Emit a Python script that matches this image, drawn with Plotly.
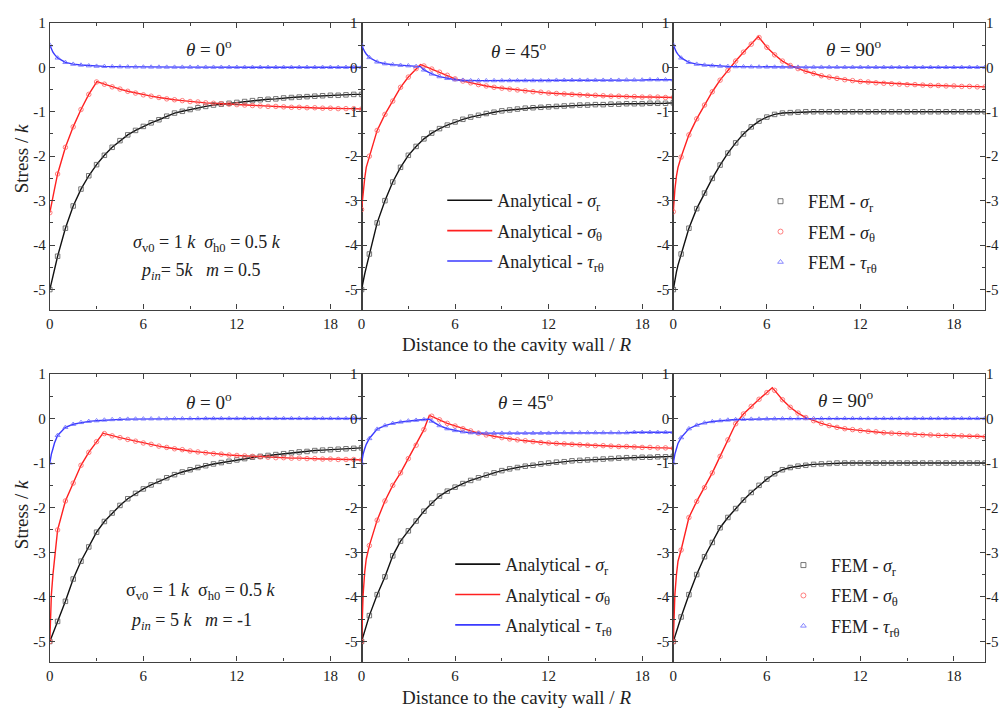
import plotly.graph_objects as go

# ---------------- data ----------------
FEM_X = [0, 0.5, 1, 1.5, 2, 2.5, 3, 3.5, 4, 4.5, 5, 5.5, 6, 6.5, 7, 7.5, 8, 8.5, 9, 9.5, 10,
         10.5, 11, 11.5, 12, 12.5, 13, 13.5, 14, 14.5, 15, 15.5, 16, 16.5, 17, 17.5, 18, 18.5, 19, 19.5, 20]
NEAR_X = [0.05, 0.1, 0.2, 0.3]          # extra analytical points close to the wall

X_TICKS = [0, 6, 12, 18]
Y_TICK_VALS = [1, 0, -1, -2, -3, -4, -5]
Y_TICK_TEXT = ["1", "0", "-1", "-2", "-3", "-4", "-5"]
THETA_LABELS = ["0", "45", "90"]

# ---- top row: m = 0.5 ----
A0_SR = [-5.0, -4.25, -3.62, -3.12, -2.74, -2.44, -2.19, -1.98, -1.80, -1.65, -1.52,
         -1.42, -1.33, -1.25, -1.18, -1.10, -1.03, -0.99, -0.95, -0.91, -0.88,
         -0.85, -0.83, -0.81, -0.79, -0.77, -0.75, -0.73, -0.72, -0.71, -0.69,
         -0.68, -0.67, -0.66, -0.65, -0.64, -0.63, -0.63, -0.62, -0.61, -0.61]
A0_SR_NEAR = [-4.92, -4.85, -4.70, -4.55]
A0_ST = [-3.27, -2.40, -1.80, -1.34, -0.95, -0.61, -0.33, -0.38, -0.44, -0.49, -0.54,
         -0.58, -0.62, -0.65, -0.68, -0.71, -0.73, -0.75, -0.77, -0.78, -0.80,
         -0.81, -0.82, -0.83, -0.84, -0.85, -0.86, -0.87, -0.88, -0.88, -0.89,
         -0.90, -0.90, -0.91, -0.91, -0.92, -0.92, -0.93, -0.93, -0.93, -0.94]
A0_ST_NEAR = [-3.17, -3.08, -2.90, -2.74]
A0_TAU = [0.50, 0.21, 0.11, 0.07, 0.05, 0.035, 0.025, 0.02, 0.015, 0.012, 0.01,
          0.008, 0.007, 0.006, 0.005, 0.004, 0.004, 0.003, 0.003, 0.002, 0.002,
          0.002, 0.001, 0.001, 0.001, 0.001, 0, 0, 0, 0, 0,
          0, 0, 0, 0, 0, 0, 0, 0, 0, 0]
A0_TAU_NEAR = [0.45, 0.41, 0.34, 0.29]

A45_SR = [-5.0, -4.20, -3.50, -3.00, -2.58, -2.25, -1.98, -1.78, -1.61, -1.48, -1.38,
          -1.30, -1.23, -1.17, -1.12, -1.08, -1.04, -1.01, -0.98, -0.96, -0.94,
          -0.92, -0.91, -0.90, -0.89, -0.88, -0.87, -0.86, -0.85, -0.85, -0.84,
          -0.84, -0.83, -0.83, -0.82, -0.82, -0.82, -0.81, -0.81, -0.81, -0.80]
A45_SR_NEAR = [-4.90, -4.82, -4.65, -4.50]
A45_ST = [-3.20, -2.00, -1.42, -1.06, -0.76, -0.45, -0.22, -0.03, 0.03, -0.04, -0.11,
          -0.18, -0.26, -0.31, -0.35, -0.39, -0.42, -0.45, -0.47, -0.49, -0.51,
          -0.53, -0.55, -0.56, -0.58, -0.59, -0.60, -0.61, -0.62, -0.63, -0.63,
          -0.64, -0.65, -0.65, -0.66, -0.66, -0.67, -0.67, -0.67, -0.68, -0.68]
A45_ST_NEAR = [-3.00, -2.80, -2.50, -2.25]
A45_TAU = [0.50, 0.22, 0.12, 0.08, 0.06, 0.045, 0.035, 0.02, -0.06, -0.15, -0.21,
           -0.25, -0.28, -0.29, -0.30, -0.30, -0.30, -0.30, -0.30, -0.30, -0.30,
           -0.30, -0.30, -0.30, -0.30, -0.29, -0.29, -0.29, -0.29, -0.29, -0.29,
           -0.29, -0.29, -0.29, -0.285, -0.285, -0.285, -0.28, -0.28, -0.28, -0.28]
A45_TAU_NEAR = [0.45, 0.41, 0.35, 0.30]

A90_SR = [-5.0, -4.20, -3.62, -3.18, -2.83, -2.50, -2.20, -1.93, -1.70, -1.50, -1.34,
          -1.21, -1.12, -1.06, -1.03, -1.02, -1.01, -1.00, -1.00, -1.00, -1.00,
          -1.00, -1.00, -1.00, -1.00, -1.00, -1.00, -1.00, -1.00, -1.00, -1.00,
          -1.00, -1.00, -1.00, -1.00, -1.00, -1.00, -1.00, -1.00, -1.00, -1.00]
A90_SR_NEAR = [-4.88, -4.78, -4.60, -4.45]
A90_ST = [-3.25, -2.02, -1.52, -1.16, -0.85, -0.55, -0.29, -0.07, 0.14, 0.34, 0.52,
          0.67, 0.45, 0.28, 0.14, 0.04, -0.03, -0.09, -0.14, -0.19, -0.22,
          -0.25, -0.28, -0.30, -0.32, -0.33, -0.35, -0.36, -0.37, -0.38, -0.39,
          -0.39, -0.40, -0.41, -0.41, -0.42, -0.42, -0.43, -0.43, -0.44, -0.44]
A90_ST_NEAR = [-2.95, -2.75, -2.45, -2.25]
A90_TAU = [0.50, 0.21, 0.11, 0.07, 0.05, 0.035, 0.025, 0.02, 0.015, 0.012, 0.01,
           0.008, 0.007, 0.006, 0.005, 0.004, 0.004, 0.003, 0.003, 0.002, 0.002,
           0.002, 0.001, 0.001, 0.001, 0.001, 0, 0, 0, 0, 0,
           0, 0, 0, 0, 0, 0, 0, 0, 0, 0]
A90_TAU_NEAR = [0.45, 0.41, 0.34, 0.29]

# ---- bottom row: m = -1 ----
B0_SR = [-5.0, -4.55, -4.10, -3.60, -3.20, -2.88, -2.55, -2.31, -2.12, -1.95, -1.80,
         -1.68, -1.58, -1.49, -1.41, -1.33, -1.26, -1.20, -1.15, -1.10, -1.06,
         -1.02, -0.99, -0.96, -0.93, -0.90, -0.87, -0.85, -0.83, -0.81, -0.79,
         -0.77, -0.75, -0.74, -0.72, -0.71, -0.70, -0.69, -0.68, -0.67, -0.66]
B0_SR_NEAR = [-4.95, -4.91, -4.82, -4.73]
B0_ST = [-5.0, -2.50, -1.85, -1.45, -1.05, -0.76, -0.52, -0.34, -0.39, -0.43, -0.47,
         -0.51, -0.55, -0.58, -0.62, -0.65, -0.68, -0.70, -0.73, -0.75, -0.77,
         -0.79, -0.80, -0.82, -0.83, -0.84, -0.85, -0.86, -0.87, -0.88, -0.88,
         -0.89, -0.89, -0.90, -0.90, -0.91, -0.91, -0.92, -0.92, -0.92, -0.93]
B0_ST_NEAR = [-4.30, -3.95, -3.50, -3.15]
B0_TAU = [-1.0, -0.38, -0.20, -0.13, -0.09, -0.065, -0.05, -0.035, -0.025, -0.02, -0.015,
          -0.012, -0.01, -0.008, -0.007, -0.006, -0.005, -0.004, -0.003, -0.003, -0.002,
          -0.002, -0.001, -0.001, -0.001, 0, 0, 0, 0, 0, 0,
          0, 0, 0, 0, 0, 0, 0, 0, 0, 0]
B0_TAU_NEAR = [-0.88, -0.80, -0.68, -0.55]

B45_SR = [-5.0, -4.42, -3.95, -3.55, -3.08, -2.75, -2.52, -2.30, -2.08, -1.90, -1.74,
          -1.63, -1.54, -1.46, -1.39, -1.33, -1.27, -1.22, -1.17, -1.13, -1.10,
          -1.07, -1.05, -1.02, -1.00, -0.98, -0.97, -0.95, -0.94, -0.93, -0.92,
          -0.91, -0.90, -0.89, -0.88, -0.88, -0.87, -0.87, -0.86, -0.86, -0.85]
B45_SR_NEAR = [-4.94, -4.88, -4.77, -4.65]
B45_ST = [-5.0, -2.85, -2.28, -1.85, -1.50, -1.22, -0.90, -0.60, -0.25, 0.05, -0.03,
          -0.11, -0.17, -0.23, -0.28, -0.33, -0.37, -0.40, -0.43, -0.46, -0.48,
          -0.50, -0.52, -0.54, -0.55, -0.56, -0.57, -0.58, -0.59, -0.60, -0.61,
          -0.61, -0.62, -0.63, -0.63, -0.64, -0.65, -0.65, -0.66, -0.66, -0.67]
B45_ST_NEAR = [-4.30, -3.95, -3.45, -3.15]
B45_TAU = [-1.0, -0.45, -0.24, -0.16, -0.11, -0.08, -0.055, -0.04, -0.025, -0.06, -0.16,
           -0.23, -0.27, -0.30, -0.32, -0.33, -0.33, -0.33, -0.33, -0.33, -0.33,
           -0.33, -0.33, -0.33, -0.33, -0.32, -0.32, -0.32, -0.32, -0.32, -0.32,
           -0.32, -0.32, -0.32, -0.32, -0.31, -0.31, -0.31, -0.31, -0.31, -0.31]
B45_TAU_NEAR = [-0.88, -0.80, -0.68, -0.58]

B90_SR = [-5.0, -4.45, -3.95, -3.50, -3.10, -2.78, -2.45, -2.22, -2.02, -1.83, -1.66,
          -1.50, -1.36, -1.24, -1.15, -1.10, -1.07, -1.05, -1.03, -1.02, -1.01,
          -1.00, -1.00, -1.00, -1.00, -1.00, -1.00, -1.00, -1.00, -1.00, -1.00,
          -1.00, -1.00, -1.00, -1.00, -1.00, -1.00, -1.00, -1.00, -1.00, -1.00]
B90_SR_NEAR = [-4.94, -4.88, -4.77, -4.66]
B90_ST = [-5.0, -2.95, -2.22, -1.86, -1.55, -1.22, -0.85, -0.48, -0.12, 0.10, 0.27,
          0.43, 0.58, 0.63, 0.42, 0.25, 0.12, 0.02, -0.05, -0.11, -0.16,
          -0.20, -0.23, -0.25, -0.27, -0.29, -0.30, -0.32, -0.33, -0.34, -0.35,
          -0.36, -0.37, -0.37, -0.38, -0.38, -0.39, -0.39, -0.40, -0.40, -0.41]
B90_ST_NEAR = [-4.30, -3.95, -3.50, -3.20]
B90_TAU = [-1.0, -0.43, -0.23, -0.15, -0.10, -0.07, -0.05, -0.035, -0.025, -0.02, -0.015,
           -0.012, -0.01, -0.008, -0.006, -0.005, -0.004, -0.003, -0.002, -0.002, -0.001,
           -0.001, 0, 0, 0, 0, 0, 0, 0, 0, 0,
           0, 0, 0, 0, 0, 0, 0, 0, 0, 0]
B90_TAU_NEAR = [-0.88, -0.80, -0.68, -0.56]

# elastic-plastic boundary (kink) of each panel: A0, A45, A90, B0, B45, B90
KINK_X = [3.02, 3.78, 5.45, 3.42, 4.35, 6.35]
KINK_ST = [-0.32, 0.06, 0.69, -0.33, 0.07, 0.69]
KINK_TAU = [0.025, 0.015, 0.01, -0.037, -0.015, -0.01]

PANELS = [
    (A0_SR, A0_SR_NEAR, A0_ST, A0_ST_NEAR, A0_TAU, A0_TAU_NEAR),
    (A45_SR, A45_SR_NEAR, A45_ST, A45_ST_NEAR, A45_TAU, A45_TAU_NEAR),
    (A90_SR, A90_SR_NEAR, A90_ST, A90_ST_NEAR, A90_TAU, A90_TAU_NEAR),
    (B0_SR, B0_SR_NEAR, B0_ST, B0_ST_NEAR, B0_TAU, B0_TAU_NEAR),
    (B45_SR, B45_SR_NEAR, B45_ST, B45_ST_NEAR, B45_TAU, B45_TAU_NEAR),
    (B90_SR, B90_SR_NEAR, B90_ST, B90_ST_NEAR, B90_TAU, B90_TAU_NEAR),
]

# ---------------- styling ----------------
W, H = 1003, 711
FONT = "Liberation Serif, Times New Roman, serif"
TXT = "#222222"
AXC = "#404040"
C_SR, C_ST, C_TAU = "#111111", "#ff2020", "#3a3aff"
M_SR, M_ST, M_TAU = "#555555", "#ff6060", "#6a6aff"

PANEL_X_PX = [(46, 359), (359, 672), (672, 985)]
ROW_Y_PX = [(15, 305), (370, 661)]


def px_x(p):
    return p / W


def px_y(p):
    return 1 - p / H


def merged(grid_vals, near_vals, kx=None, kv=None):
    pts = list(zip(FEM_X, grid_vals)) + list(zip(NEAR_X, near_vals))
    if kx is not None:
        pts.append((kx, kv))
    pts.sort(key=lambda t: t[0])
    return [p[0] for p in pts], [p[1] for p in pts]


fig = go.Figure()

for k, (sr, srn, st, stn, tau, taun) in enumerate(PANELS):
    ax = "" if k == 0 else str(k + 1)
    xa, ya = "x" + ax, "y" + ax
    lx, ly = merged(sr, srn)
    fig.add_trace(go.Scatter(x=lx, y=ly, mode="lines", line=dict(color=C_SR, width=1.4),
                             xaxis=xa, yaxis=ya, showlegend=False, hoverinfo="skip"))
    lx, ly = merged(st, stn, KINK_X[k], KINK_ST[k])
    fig.add_trace(go.Scatter(x=lx, y=ly, mode="lines", line=dict(color=C_ST, width=1.4),
                             xaxis=xa, yaxis=ya, showlegend=False, hoverinfo="skip"))
    lx, ly = merged(tau, taun, KINK_X[k], KINK_TAU[k])
    fig.add_trace(go.Scatter(x=lx, y=ly, mode="lines", line=dict(color=C_TAU, width=1.4),
                             xaxis=xa, yaxis=ya, showlegend=False, hoverinfo="skip"))
    for vals, sym, col in ((sr, "square-open", M_SR), (st, "circle-open", M_ST),
                           (tau, "triangle-up-open", M_TAU)):
        fig.add_trace(go.Scatter(x=FEM_X, y=vals, mode="markers",
                                 marker=dict(symbol=sym, size=4.5, color=col,
                                             line=dict(width=0.8, color=col)),
                                 xaxis=xa, yaxis=ya, showlegend=False, hoverinfo="skip"))

# helper traces so the right-hand label axes exist
for ya in ("y7", "y8"):
    fig.add_trace(go.Scatter(x=[None], y=[None], xaxis="x3" if ya == "y7" else "x6", yaxis=ya,
                             mode="lines", showlegend=False, hoverinfo="skip"))

# legends (top-middle / bottom-middle analytical, top-right / bottom-right FEM)
sym_r = "<i>σ</i><sub>r</sub>"
sym_t = "<i>σ</i><sub>θ</sub>"
sym_rt = "<i>τ</i><sub>rθ</sub>"
for lg_a, lg_f, xa, ya in (("legend", "legend2", "x2", "y2"), ("legend3", "legend4", "x5", "y5")):
    for name, col in (("Analytical - " + sym_r, C_SR), ("Analytical - " + sym_t, C_ST),
                      ("Analytical - " + sym_rt, C_TAU)):
        fig.add_trace(go.Scatter(x=[None], y=[None], mode="lines", name=name,
                                 line=dict(color=col, width=1.6), legend=lg_a,
                                 legendgroup=lg_a + name, xaxis=xa, yaxis=ya))
    for name, sym, col in (("FEM - " + sym_r, "square-open", M_SR),
                           ("FEM - " + sym_t, "circle-open", M_ST),
                           ("FEM - " + sym_rt, "triangle-up-open", M_TAU)):
        fig.add_trace(go.Scatter(x=[None], y=[None], mode="markers", name=name,
                                 marker=dict(symbol=sym, size=5, color=col, line=dict(width=0.8, color=col)),
                                 legend=lg_f, legendgroup=lg_f + name, xaxis=xa, yaxis=ya))

axis_common = dict(showline=True, linecolor=AXC, linewidth=1.3, mirror="ticks",
                   ticks="inside", tickcolor=AXC, tickwidth=1.1, showgrid=False, zeroline=False,
                   tickfont=dict(family=FONT, size=15, color=TXT))

layout = dict(width=W, height=H, margin=dict(l=0, r=0, t=0, b=0),
              paper_bgcolor="white", plot_bgcolor="white",
              font=dict(family=FONT, color=TXT), showlegend=True)

for k in range(6):
    row, col = divmod(k, 3)
    ax = "" if k == 0 else str(k + 1)
    x0, x1 = PANEL_X_PX[col]
    yt, yb = ROW_Y_PX[row]
    layout["xaxis" + ax] = dict(axis_common, domain=[px_x(x0), px_x(x1)], anchor="y" + ax,
                                range=[0, 20], tickmode="array", tickvals=X_TICKS,
                                ticktext=[str(v) for v in X_TICKS], ticklen=5,
                                minor=dict(tickmode="linear", tick0=0, dtick=3, ticklen=3,
                                           ticks="inside", tickcolor=AXC))
    layout["yaxis" + ax] = dict(axis_common, domain=[px_y(yb), px_y(yt)], anchor="x" + ax,
                                range=[-5.45, 1], tickmode="array", tickvals=Y_TICK_VALS,
                                ticktext=Y_TICK_TEXT, ticklen=5,
                                minor=dict(tickmode="linear", tick0=0, dtick=0.5, ticklen=3,
                                           ticks="inside", tickcolor=AXC))

for ya, base, xa in (("yaxis7", "y3", "x3"), ("yaxis8", "y6", "x6")):
    layout[ya] = dict(overlaying=base, anchor=xa, side="right", range=[-5.45, 1],
                      tickmode="array", tickvals=Y_TICK_VALS, ticktext=Y_TICK_TEXT,
                      showline=False, ticks="", showgrid=False, zeroline=False,
                      tickfont=dict(family=FONT, size=15, color=TXT))

leg_common = dict(bgcolor="rgba(0,0,0,0)", borderwidth=0, xanchor="left", yanchor="top",
                  font=dict(family=FONT, size=18, color=TXT), itemwidth=45, tracegroupgap=4)
layout["legend"] = dict(leg_common, x=px_x(440), y=px_y(176))
layout["legend2"] = dict(leg_common, x=px_x(752), y=px_y(177))
layout["legend3"] = dict(leg_common, x=px_x(448), y=px_y(544))
layout["legend4"] = dict(leg_common, x=px_x(775), y=px_y(545))

ann = []
THETA_POS = [(206, 40), (517, 42), (853, 40), (206, 397), (524, 397), (845, 395)]
for k, (xp, yp) in enumerate(THETA_POS):
    ann.append(dict(text="<i>θ</i> = " + THETA_LABELS[k % 3] + "<sup>o</sup>", x=px_x(xp), y=px_y(yp),
                    xref="paper", yref="paper", showarrow=False, xanchor="center", yanchor="middle",
                    font=dict(family=FONT, size=19, color=TXT)))
NB = "\u00a0"
PARAM_TEXT = [
    ("<i>σ</i><sub>v0</sub> = 1 <i>k</i>" + NB * 2 + "<i>σ</i><sub>h0</sub> = 0.5 <i>k</i>", 204, 238),
    ("<i>p</i><sub><i>in</i></sub>= 5<i>k</i>" + NB * 3 + "<i>m</i> = 0.5", 197, 267),
    ("σ<sub>v0</sub> = 1 <i>k</i>" + NB * 2 + "σ<sub>h0</sub> = 0.5 <i>k</i>", 197, 590),
    ("<i>p</i><sub><i>in</i></sub> = 5 <i>k</i>" + NB * 3 + "<i>m</i> = -1", 188, 620),
]
for t, xp, yp in PARAM_TEXT:
    ann.append(dict(text=t, x=px_x(xp), y=px_y(yp), xref="paper", yref="paper", showarrow=False,
                    xanchor="center", yanchor="middle", font=dict(family=FONT, size=18, color=TXT)))
for yp in (340, 697):
    ann.append(dict(text="Distance to the cavity wall / <i>R</i>", x=px_x(515), y=px_y(yp),
                    xref="paper", yref="paper", showarrow=False, xanchor="center", yanchor="middle",
                    font=dict(family=FONT, size=19, color=TXT)))
for yp in (152, 512):
    ann.append(dict(text="Stress / <i>k</i>", x=px_x(17), y=px_y(yp), textangle=-90,
                    xref="paper", yref="paper", showarrow=False, xanchor="center", yanchor="middle",
                    font=dict(family=FONT, size=19, color=TXT)))
layout["annotations"] = ann

fig.update_layout(**layout)
fig.write_html("out.html")
